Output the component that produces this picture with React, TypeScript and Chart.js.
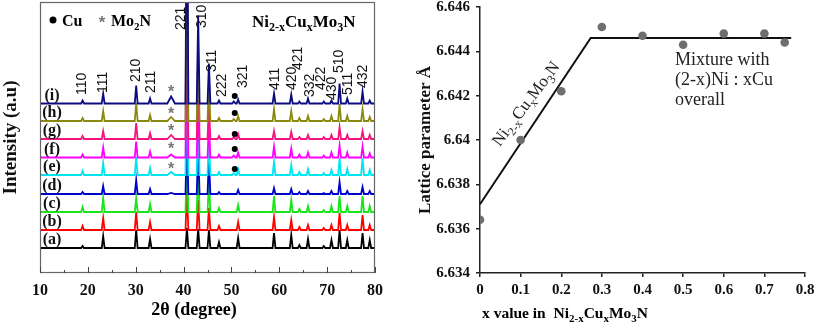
import React, { useEffect, useRef } from "react";
import { Chart, registerables } from "chart.js";

Chart.register(...registerables);

const SERIF = "'Liberation Serif', 'Times New Roman', Times, serif";
const SANS = "'Liberation Sans', Arial, Helvetica, sans-serif";

// ---------------- Left panel: XRD patterns ----------------
const traceLabels = ["(a)", "(b)", "(c)", "(d)", "(e)", "(f)", "(g)", "(h)", "(i)"];
const traceColors = ["#000000", "#ff0000", "#19e619", "#0000cc", "#00e6f0", "#ff00ff", "#f5147d", "#8a8a10", "#0c0c80"];
const traceOffsets = [25, 43, 61, 79, 98, 115.5, 134, 152, 169.5];

const peakPositions = [18.9, 23.2, 30.1, 33.0, 37.4, 40.7, 43.05, 45.3, 47.4, 50.5, 51.4, 58.9, 62.5, 64.2, 66.0, 69.3, 70.9, 72.6, 74.2, 77.4, 78.9];
const peakHalfWidths = [0.3, 0.3, 0.3, 0.3, 0.8, 0.3, 0.3, 0.3, 0.3, 0.35, 0.3, 0.3, 0.3, 0.3, 0.3, 0.3, 0.3, 0.3, 0.3, 0.3, 0.3];

const heightsA = [2, 12, 18, 9, 0, 20, 19, 18, 6, 0, 10, 15, 13, 3, 9, 2, 8, 18, 8, 15, 8];
const heightsB = [4, 12, 18, 8, 0, 40, 30, 22, 4, 0, 8, 13, 10, 3, 5, 2, 5, 17, 5, 15, 5];
const heightsC = [5, 14, 14, 8, 0, 60, 45, 30, 4, 0, 7, 16, 12, 3, 6, 2, 6, 16, 6, 16, 6];
const heightsD = [2, 8, 14, 5, 1, 60, 45, 35, 2, 0, 4, 6, 5, 2, 3, 1, 3, 12, 3, 7, 3];
const heightsE = [4, 12, 18, 7, 3, 120, 60, 35, 3, 2, 6, 13, 10, 3, 6, 2, 5, 17, 6, 17, 5];
const heightsF = [3, 10, 16, 6, 3, 150, 60, 35, 3, 2, 5, 11, 9, 3, 5, 2, 5, 12, 5, 11, 4];
const heightsG = [3, 8, 16, 6, 4, 200, 70, 35, 3, 2, 5, 8, 7, 2, 4, 2, 4, 12, 4, 8, 4];
const heightsH = [3, 10, 18, 6, 4, 220, 70, 38, 3, 2, 5, 12, 10, 3, 5, 2, 5, 17, 5, 12, 4];
const heightsI = [3, 10, 18, 5, 7, 260, 88, 40, 3, 2, 4, 10, 9, 2, 5, 2, 3, 20, 5, 12, 3];
const traceHeights = [heightsA, heightsB, heightsC, heightsD, heightsE, heightsF, heightsG, heightsH, heightsI];

const hklText = ["110", "111", "210", "211", "221", "310", "311", "222", "321", "411", "420", "421", "332", "422", "430", "510", "511", "432"];
const hklX = [18.71, 23.23, 30.06, 33.13, 39.46, 43.95, 46.04, 48.13, 52.41, 59.2, 62.65, 64.0, 66.52, 68.82, 70.99, 72.58, 74.35, 77.49];
const hklBase = [178, 180, 191, 180, 243, 245, 201, 176, 185, 183, 183, 203, 176, 183, 173, 200, 178, 185];

const markedTraces = [4, 5, 6, 7, 8];
const mo2nRise = [8, 10.5, 10, 9, 14];
const cuRise = [6, 8.5, 5, 8, 7.5];
const MO2N_X = 37.4;
const CU_X = 50.7;

// ---------------- Right panel: lattice parameter ----------------
const xValues = [0, 0.1, 0.2, 0.3, 0.4, 0.5, 0.6, 0.7, 0.75];
const latticeValues = [6.6364, 6.64, 6.6422, 6.6451, 6.6447, 6.6443, 6.6448, 6.6448, 6.6444];
const fitX = [0, 0.2725, 0.766];
const fitY = [6.6371, 6.6446, 6.6446];

const formulaRuns: Array<[string, number]> = [["Ni", 0], ["2-x", 1], ["Cu", 0], ["x", 1], ["Mo", 0], ["3", 1], ["N", 0]];

function drawRich(ctx: CanvasRenderingContext2D, runs: Array<[string, number]>, x: number, baseline: number, size: number, weight: string, align: string, color: string) {
  const main = `${weight} ${size}px ${SERIF}`;
  const sub = `${weight} ${Math.round(size * 0.68)}px ${SERIF}`;
  let w = 0;
  for (const [t, s] of runs) {
    ctx.font = s ? sub : main;
    w += ctx.measureText(t).width;
  }
  let cx = align === "center" ? x - w / 2 : x;
  ctx.fillStyle = color;
  ctx.textAlign = "left";
  ctx.textBaseline = "alphabetic";
  for (const [t, s] of runs) {
    ctx.font = s ? sub : main;
    ctx.fillText(t, cx, s ? baseline + size * 0.25 : baseline);
    cx += ctx.measureText(t).width;
  }
}

function buildTrace(offset: number, heights: number[]) {
  const pts: { x: number; y: number }[] = [{ x: 10, y: offset }];
  peakPositions.forEach((p, k) => {
    const h = heights[k];
    if (!h) return;
    const w = peakHalfWidths[k];
    pts.push({ x: p - w, y: offset }, { x: p, y: offset + h }, { x: p + w, y: offset });
  });
  pts.push({ x: 80, y: offset });
  return pts;
}

const xrdDecor = {
  id: "xrdDecor",
  afterDraw(chart: any) {
    const ctx: CanvasRenderingContext2D = chart.ctx;
    const { left, right, top, bottom } = chart.chartArea;
    const xs = chart.scales.x;
    const ys = chart.scales.y;
    ctx.save();
    // frame
    ctx.strokeStyle = "#666";
    ctx.lineWidth = 1.2;
    ctx.strokeRect(left + 0.5, top + 0.5, right - left - 1, bottom - top - 1);
    // inward ticks
    ctx.strokeStyle = "#444";
    ctx.lineWidth = 1;
    for (let v = 10; v <= 80; v += 5) {
      const px = Math.round(xs.getPixelForValue(v)) + 0.5;
      const len = v % 10 === 0 ? 6 : 3;
      ctx.beginPath();
      ctx.moveTo(px, bottom);
      ctx.lineTo(px, bottom - len);
      ctx.stroke();
    }
    // trace labels
    ctx.fillStyle = "#111";
    ctx.font = `bold 16px ${SERIF}`;
    ctx.textAlign = "center";
    ctx.textBaseline = "middle";
    traceLabels.forEach((lab, i) => {
      ctx.fillText(lab, xs.getPixelForValue(12.5), ys.getPixelForValue(traceOffsets[i] + 8));
    });
    // hkl labels
    ctx.font = `14px ${SANS}`;
    ctx.fillStyle = "#111";
    hklText.forEach((t, i) => {
      ctx.save();
      ctx.translate(xs.getPixelForValue(hklX[i]), ys.getPixelForValue(hklBase[i]));
      ctx.rotate(-Math.PI / 2);
      ctx.textAlign = "left";
      ctx.textBaseline = "middle";
      ctx.fillText(t, 0, 0);
      ctx.restore();
    });
    // markers
    markedTraces.forEach((ti, k) => {
      const ax = xs.getPixelForValue(MO2N_X);
      const ay = ys.getPixelForValue(traceOffsets[ti] + mo2nRise[k]);
      ctx.fillStyle = "#777";
      ctx.font = `bold 16px ${SANS}`;
      ctx.textAlign = "center";
      ctx.textBaseline = "middle";
      ctx.fillText("*", ax, ay + 3);
      const cx = xs.getPixelForValue(CU_X);
      const cy = ys.getPixelForValue(traceOffsets[ti] + cuRise[k]);
      ctx.fillStyle = "#000";
      ctx.beginPath();
      ctx.arc(cx, cy, 3, 0, Math.PI * 2);
      ctx.fill();
    });
    // legend
    ctx.fillStyle = "#000";
    ctx.beginPath();
    ctx.arc(53, 20, 3.5, 0, Math.PI * 2);
    ctx.fill();
    drawRich(ctx, [["Cu", 0]], 62, 25.5, 16, "bold", "left", "#000");
    ctx.fillStyle = "#777";
    ctx.font = `bold 17px ${SANS}`;
    ctx.textAlign = "center";
    ctx.textBaseline = "middle";
    ctx.fillText("*", 102, 23);
    drawRich(ctx, [["Mo", 0], ["2", 1], ["N", 0]], 111, 25.5, 16, "bold", "left", "#000");
    drawRich(ctx, formulaRuns, 252, 26.5, 17, "bold", "left", "#000");
    // x title
    ctx.fillStyle = "#000";
    ctx.font = `bold 18px ${SERIF}`;
    ctx.textAlign = "center";
    ctx.textBaseline = "middle";
    ctx.fillText("2\u03b8 (degree)", 194, 310);
    ctx.restore();
  },
};

const latticeDecor = {
  id: "latticeDecor",
  afterDraw(chart: any) {
    const ctx: CanvasRenderingContext2D = chart.ctx;
    ctx.save();
    drawRich(ctx, [["x value in  ", 0], ...formulaRuns], 67, 318, 15.5, "bold", "left", "#000");
    ctx.fillStyle = "#222";
    ctx.font = `18px ${SERIF}`;
    ctx.textAlign = "left";
    ctx.textBaseline = "middle";
    ctx.fillText("Mixture with", 260, 60);
    ctx.fillText("(2-x)Ni : xCu", 260, 80);
    ctx.fillText("overall", 260, 100);
    ctx.translate(111, 104);
    ctx.rotate((-53 * Math.PI) / 180);
    drawRich(ctx, formulaRuns, 0, 5, 17, "normal", "center", "#222");
    ctx.restore();
  },
};

const fmt = (v: any) => String(Number(Number(v).toFixed(3)));

export default function App() {
  const leftRef = useRef<HTMLCanvasElement | null>(null);
  const rightRef = useRef<HTMLCanvasElement | null>(null);

  useEffect(() => {
    const datasets = traceLabels.map((lab, i) => ({
      label: lab,
      data: buildTrace(traceOffsets[i], traceHeights[i]),
      showLine: true,
      borderColor: traceColors[i],
      backgroundColor: traceColors[i],
      borderWidth: 1.8,
      pointRadius: 0,
      tension: 0,
      order: traceLabels.length - 1 - i,
    }));
    const left = new Chart(leftRef.current as HTMLCanvasElement, {
      type: "scatter",
      data: { datasets },
      options: {
        responsive: false,
        devicePixelRatio: 1,
        animation: false,
        events: [],
        layout: { padding: { left: 0, right: 40, top: 2, bottom: 0 } },
        plugins: { legend: { display: false }, tooltip: { enabled: false } },
        scales: {
          x: {
            type: "linear",
            min: 10,
            max: 80,
            afterFit: (s: any) => {
              s.height = 52;
              s.paddingLeft = 0;
              s.paddingRight = 0;
            },
            grid: { display: false, drawTicks: false },
            border: { display: false },
            ticks: { stepSize: 10, padding: 8, color: "#111", font: { family: SERIF, size: 16, weight: "bold" } },
          },
          y: {
            type: "linear",
            min: 0,
            max: 271,
            afterFit: (s: any) => {
              s.width = 40;
              s.paddingTop = 0;
              s.paddingBottom = 0;
            },
            grid: { display: false, drawTicks: false },
            border: { display: false },
            ticks: { display: false },
            title: { display: true, text: "Intensity (a.u)", color: "#111", padding: { top: 0, bottom: 0 }, font: { family: SERIF, size: 19, weight: "bold" } },
          },
        },
      },
      plugins: [xrdDecor],
    } as any);

    const right = new Chart(rightRef.current as HTMLCanvasElement, {
      type: "scatter",
      data: {
        datasets: [
          {
            label: "fit",
            data: fitX.map((x, i) => ({ x, y: fitY[i] })),
            showLine: true,
            borderColor: "#111",
            borderWidth: 2,
            pointRadius: 0,
            order: 1,
          },
          {
            label: "lattice",
            data: xValues.map((x, i) => ({ x, y: latticeValues[i] })),
            pointRadius: 4.3,
            backgroundColor: "#6e6e6e",
            borderWidth: 0,
            order: 0,
          },
        ],
      },
      options: {
        responsive: false,
        devicePixelRatio: 1,
        animation: false,
        events: [],
        layout: { padding: { left: 0, right: 12, top: 7, bottom: 0 } },
        plugins: { legend: { display: false }, tooltip: { enabled: false } },
        scales: {
          x: {
            type: "linear",
            min: 0,
            max: 0.8,
            afterFit: (s: any) => {
              s.height = 52;
              s.paddingLeft = 0;
              s.paddingRight = 0;
            },
            grid: { display: true, drawOnChartArea: false, drawTicks: true, tickLength: 4, color: "#222", lineWidth: 1.5 },
            border: { display: true, color: "#222", width: 1.5 },
            ticks: { stepSize: 0.1, padding: 4, color: "#111", callback: fmt, font: { family: SERIF, size: 15, weight: "bold" } },
          },
          y: {
            type: "linear",
            min: 6.634,
            max: 6.646,
            afterFit: (s: any) => {
              s.width = 65;
              s.paddingTop = 0;
              s.paddingBottom = 0;
            },
            grid: { display: true, drawOnChartArea: false, drawTicks: true, tickLength: 4, color: "#222", lineWidth: 1.5 },
            border: { display: true, color: "#222", width: 1.5 },
            ticks: { stepSize: 0.002, padding: 6, color: "#111", callback: fmt, font: { family: SERIF, size: 15, weight: "bold" } },
            title: { display: true, text: "Lattice parameter \u00c5", color: "#111", padding: { top: 0, bottom: 0 }, font: { family: SERIF, size: 17, weight: "bold" } },
          },
        },
      },
      plugins: [latticeDecor],
    } as any);

    return () => {
      left.destroy();
      right.destroy();
    };
  }, []);

  return (
    <div style={{ position: "fixed", left: 0, top: 0, width: 817, height: 325, background: "#fff" }}>
      <canvas ref={leftRef} width={415} height={325} style={{ position: "absolute", left: 0, top: 0, width: 415, height: 325 }} />
      <canvas ref={rightRef} width={402} height={325} style={{ position: "absolute", left: 415, top: 0, width: 402, height: 325 }} />
    </div>
  );
}
